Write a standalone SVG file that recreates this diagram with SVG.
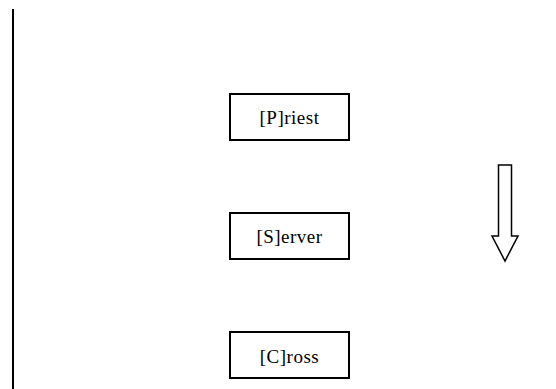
<svg xmlns="http://www.w3.org/2000/svg" width="556" height="389" viewBox="0 0 556 389">
<style>
.box{fill:#fff;stroke:#000;stroke-width:2}
.lbl{font-family:"Liberation Serif","DejaVu Serif",serif;font-size:19px;fill:#000;text-anchor:middle;letter-spacing:0.5px}
.conn{fill:none;stroke:#000}
</style>
<rect width="556" height="389" fill="#fff"/>
<g id="connectors">
<line class="conn" x1="13" y1="9" x2="13" y2="389" stroke-width="2"/>
<path id="arrow" class="conn" d="M498.5,165 H511.5 V236 H518 L505,261 L492,236 H498.5 Z" stroke-width="1.5" stroke-linejoin="miter"/>
</g>
<g id="priest">
<rect class="box" x="230" y="94" width="119" height="46"/>
<text class="lbl" x="289.5" y="124">[P]riest</text>
</g>
<g id="server">
<rect class="box" x="230" y="213" width="119" height="46"/>
<text class="lbl" x="289.5" y="243">[S]erver</text>
</g>
<g id="cross">
<rect class="box" x="230" y="332" width="119" height="46"/>
<text class="lbl" x="289.5" y="363">[C]ross</text>
</g>
</svg>
